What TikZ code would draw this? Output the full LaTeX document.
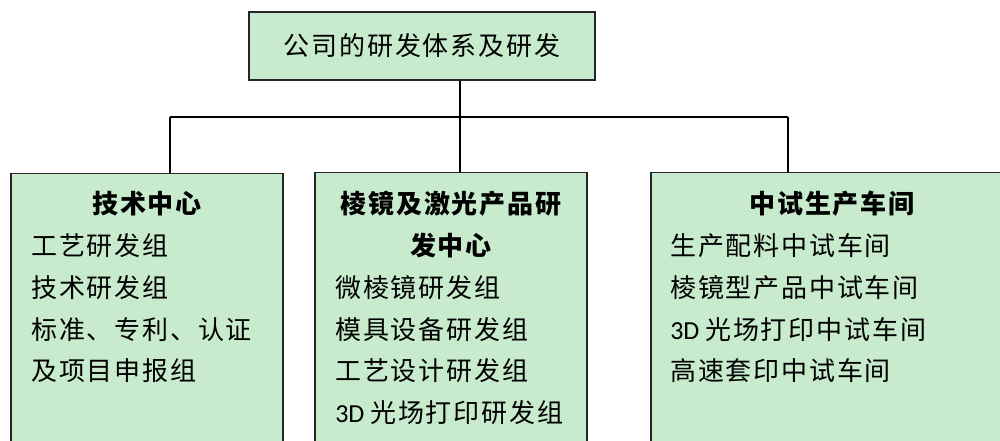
\documentclass[tikz,border=0pt]{standalone}
\usepackage{fontspec}
\setmainfont{Noto Sans CJK SC}[LetterSpace=7]
\newfontfamily\latin{Carlito}
\definecolor{boxgreen}{RGB}{199,235,204}
\newcommand{\threeD}{{\latin 3D\ }}

\begin{document}
\begin{tikzpicture}[x=0.75pt,y=-0.75pt,
    box/.style={draw=black!85, line width=1pt, fill=boxgreen, inner sep=0pt},
    part/.style={box, anchor=north, minimum height=225pt},
    head/.style={anchor=base, inner sep=0pt, font=\fontsize{19.5}{20}\selectfont\bfseries},
    item/.style={anchor=base west, inner sep=0pt, font=\fontsize{19.5}{20}\selectfont},
    link/.style={line width=1.5pt}]
  \useasboundingbox (0,0) rectangle (1000,441);
  \clip (0,0) rectangle (1000,441);
  % boxes
  \node[box, minimum width=259.5pt, minimum height=51pt,
    font=\fontsize{19.5}{20}\selectfont] (root) at (422,46) {公司的研发体系及研发};
  \node[part, minimum width=204pt] (tech) at (147,173) {};
  \node[part, minimum width=204pt] (prism) at (451,172) {};
  \node[part, minimum width=271.5pt] (pilot) at (832,172) {};
  % connectors
  \coordinate (hub) at (460,117);
  \coordinate (lt) at (170,117);
  \coordinate (rt) at (788,117);
  \begin{scope}[link]
    \draw (root.south -| hub) -- (hub |- prism.north);
    \draw (lt) -- (rt);
    \draw (lt) -- (lt |- tech.north);
    \draw (rt) -- (rt |- pilot.north);
  \end{scope}
  % texts
  \node[head] (techhead) at (147,214) {技术中心};
  \foreach \t [count=\i] in {工艺研发组, 技术研发组, 标准、专利、认证, 及项目申报组}
    \node[item] (tech\i) at (31,214+41.7*\i) {\t};
  \node[head] (prismhead1) at (451,214) {棱镜及激光产品研};
  \node[head] (prismhead2) at (451,255.7) {发中心};
  \foreach \t [count=\i] in {微棱镜研发组, 模具设备研发组, 工艺设计研发组, \threeD 光场打印研发组}
    \node[item] (prism\i) at (335,255.7+41.7*\i) {\t};
  \node[head] (pilothead) at (832,214) {中试生产车间};
  \foreach \t [count=\i] in {生产配料中试车间, 棱镜型产品中试车间, \threeD 光场打印中试车间, 高速套印中试车间}
    \node[item] (pilot\i) at (670,214+41.7*\i) {\t};
\end{tikzpicture}
\end{document}
